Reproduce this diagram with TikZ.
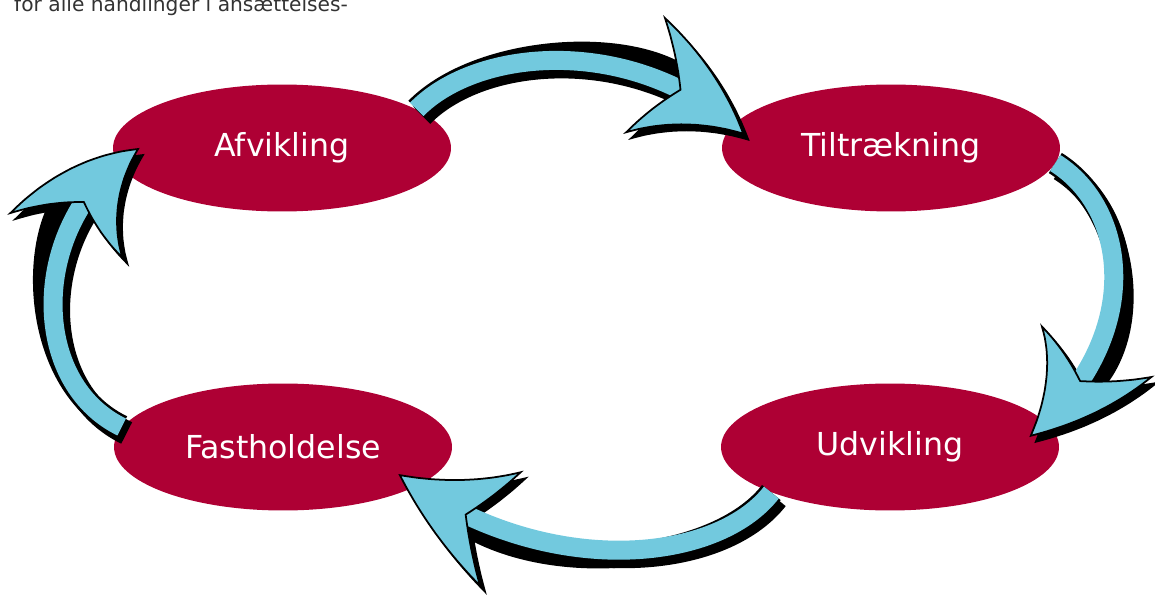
\documentclass[tikz,border=0pt]{standalone}
\usepackage{fontspec}
\setsansfont{DejaVu Sans}
\usetikzlibrary{shapes.geometric,arrows.meta,bending}

\definecolor{phasered}{HTML}{AE0034}
\definecolor{cycleblue}{HTML}{72C9DE}

\tikzset{
    phase/.style={ellipse, fill=phasered, text=white, inner sep=0pt,
        minimum width=6.76cm, minimum height=2.54cm,
        font=\sffamily\fontsize{18}{21}\selectfont},
    bigtip/.style={-{Stealth[length=2.5cm, width=2.5cm, inset=0.85cm, bend, line width=1pt, #1]}},
}

% shadow, outline and fill of one cycle arrow
\newcommand\cyclearrow[4]{%
    \draw[black, line width=0.48cm, bigtip={fill=black}, transform canvas={shift={(5,6)}}] (#1) .. controls (#2) and (#3) .. (#4);
    \draw[black, line width=0.48cm, shorten >=1.4cm] (#1) .. controls (#2) and (#3) .. (#4);
    \draw[cycleblue, line width=0.38cm, bigtip={fill=cycleblue, color=black}] (#1) .. controls (#2) and (#3) .. (#4);
}

\begin{document}
\begin{tikzpicture}[x=0.02cm, y=-0.02cm]
    \useasboundingbox (0,0) rectangle (1155,604);

    % 
    \node[anchor=base west, text=black!80, font=\sffamily\fontsize{11.5}{14}\selectfont] (lead) at (8,12) {for alle handlinger i ansættelses-};

    % 
    \node[phase] (afv) at (282,148) {Afvikling};
    \node[phase] (til) at (891,148) {Tiltrækning};
    \node[phase] (udv) at (890,447) {Udvikling};
    \node[phase] (fas) at (283,447) {Fastholdelse};

    % 
    \cyclearrow{afv.16}{480,45}{640,35}{[shift={(23,-13)}]til.west}
    \cyclearrow{[shift={(-5,15)}]til.east}{1130,210}{1145,340}{[shift={(-30,-10)}]udv.east}
    \cyclearrow{udv.201}{715,565}{540,580}{[shift={(-54,27)}]fas.east}
    \cyclearrow{[shift={(8,-20)}]fas.west}{25,380}{30,215}{[shift={(27,0)}]afv.west}
\end{tikzpicture}
\end{document}
